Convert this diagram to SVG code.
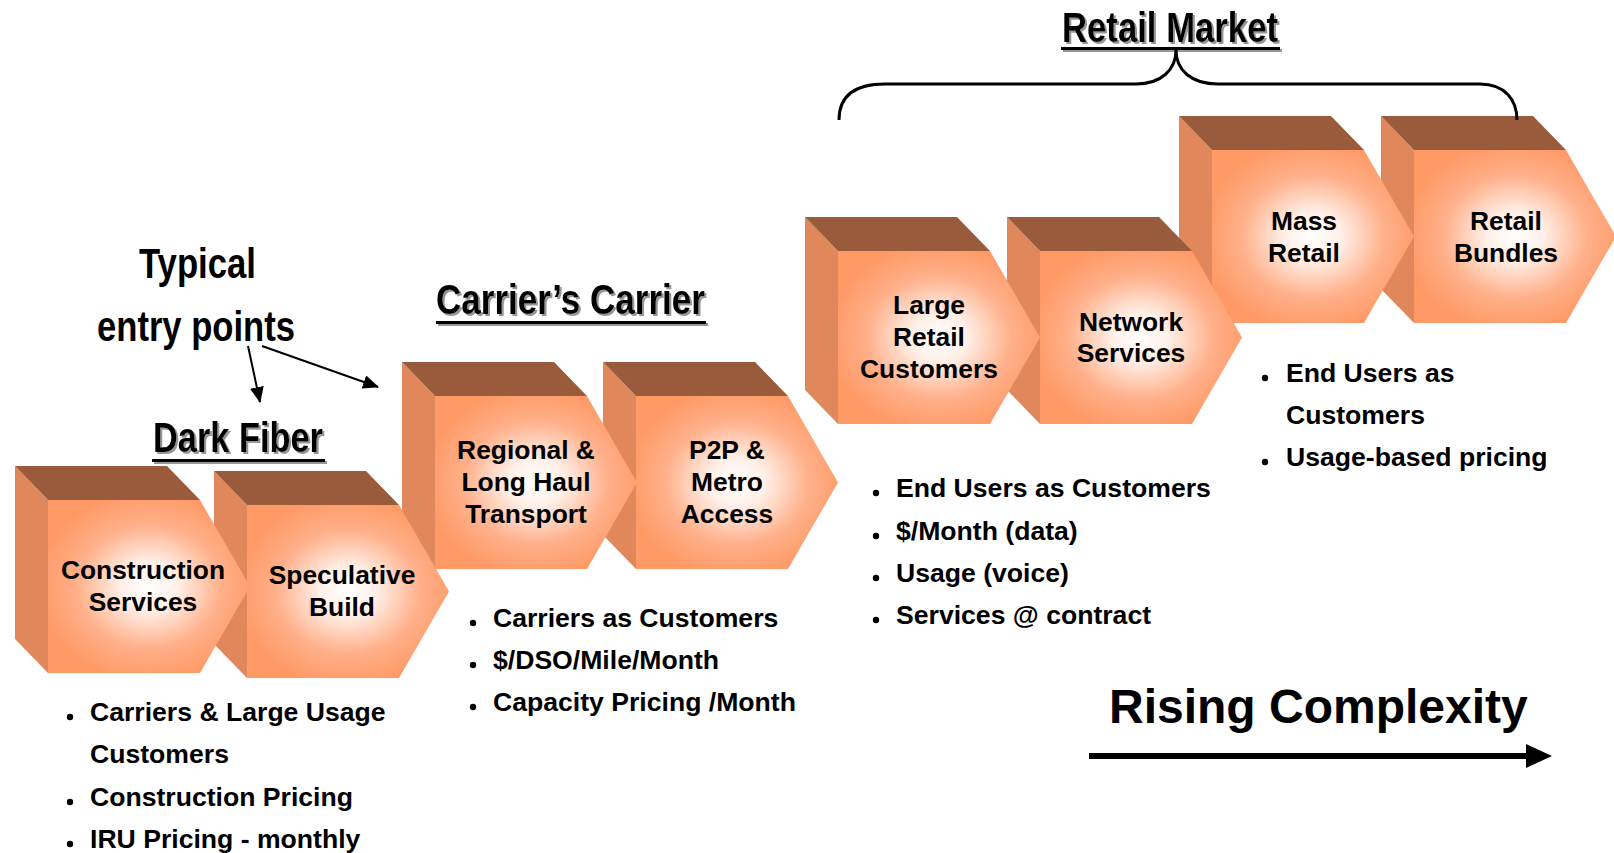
<svg xmlns="http://www.w3.org/2000/svg" xmlns:xlink="http://www.w3.org/1999/xlink" width="1614" height="853" viewBox="0 0 1614 853">
<style>
.side{fill:#E0885C}
.top{fill:#995B3C}
.front{fill:url(#fg)}
.lbl{font-family:"Liberation Sans",Arial,sans-serif;font-weight:bold;font-size:26.4px;text-anchor:middle;fill:#000}
.bul{font-family:"Liberation Sans",Arial,sans-serif;font-weight:bold;font-size:26.6px;fill:#000}
.head{font-family:"Liberation Sans Narrow","Liberation Sans",Arial,sans-serif;font-weight:bold;font-size:42px;fill:#000}
.big{font-family:"Liberation Sans",Arial,sans-serif;font-weight:bold;font-size:48px;fill:#000}
.conn{fill:none;stroke:#000;stroke-width:2}
.dot{fill:#000}
</style>
<defs>
<radialGradient id="fg" cx="0.5" cy="0.5" r="0.55">
<stop offset="0" stop-color="#FFFFFF"/>
<stop offset="0.25" stop-color="#FFF0E8"/>
<stop offset="0.65" stop-color="#FFB08A"/>
<stop offset="1" stop-color="#FF9966"/>
</radialGradient>
<filter id="sh" x="-10%" y="-20%" width="120%" height="150%">
<feDropShadow dx="2" dy="2" stdDeviation="0.6" flood-color="#8C8C8C" flood-opacity="0.9"/>
</filter>
<marker id="ah" markerUnits="userSpaceOnUse" markerWidth="16" markerHeight="14" refX="15" refY="7" orient="auto">
<path d="M0,0 L16,7 L0,14 z" fill="#000"/>
</marker>
<g id="box">
<polygon class="side" points="0,0 33,34 33,207 0,173"/>
<polygon class="top" points="0,0 152,0 185,34 33,34"/>
<polygon class="front" points="33,34 185,34 235,120.5 185,207 33,207"/>
</g>
</defs>
<rect width="1614" height="853" fill="#FFFFFF"/>

<g id="node-retail-bundles">
<use xlink:href="#box" href="#box" transform="translate(1381,116)"/>
<text class="lbl" x="1506" y="230">Retail</text>
<text class="lbl" x="1506" y="262">Bundles</text>
</g>
<g id="node-mass-retail">
<use xlink:href="#box" href="#box" transform="translate(1179,116)"/>
<text class="lbl" x="1304" y="230">Mass</text>
<text class="lbl" x="1304" y="262">Retail</text>
</g>
<g id="node-network-services">
<use xlink:href="#box" href="#box" transform="translate(1007,217)"/>
<text class="lbl" x="1131" y="331">Network</text>
<text class="lbl" x="1131" y="362">Services</text>
</g>
<g id="node-large-retail">
<use xlink:href="#box" href="#box" transform="translate(805,217)"/>
<text class="lbl" x="929" y="314">Large</text>
<text class="lbl" x="929" y="346">Retail</text>
<text class="lbl" x="929" y="378">Customers</text>
</g>
<g id="node-p2p-metro">
<use xlink:href="#box" href="#box" transform="translate(603,362)"/>
<text class="lbl" x="727" y="459">P2P &amp;</text>
<text class="lbl" x="727" y="491">Metro</text>
<text class="lbl" x="727" y="523">Access</text>
</g>
<g id="node-regional">
<use xlink:href="#box" href="#box" transform="translate(402,362)"/>
<text class="lbl" x="526" y="459">Regional &amp;</text>
<text class="lbl" x="526" y="491">Long Haul</text>
<text class="lbl" x="526" y="523">Transport</text>
</g>
<g id="node-speculative">
<use xlink:href="#box" href="#box" transform="translate(214,471)"/>
<text class="lbl" x="342" y="584">Speculative</text>
<text class="lbl" x="342" y="616">Build</text>
</g>
<g id="node-construction">
<use xlink:href="#box" href="#box" transform="translate(15,466)"/>
<text class="lbl" x="143" y="579">Construction</text>
<text class="lbl" x="143" y="611">Services</text>
</g>

<g id="headings">
<text class="head" x="139" y="278" textLength="117" lengthAdjust="spacingAndGlyphs">Typical</text>
<text class="head" x="97" y="341" textLength="198" lengthAdjust="spacingAndGlyphs">entry points</text>
<g filter="url(#sh)">
<text class="head" x="153" y="452" textLength="170" lengthAdjust="spacingAndGlyphs">Dark Fiber</text>
<rect x="152" y="459" width="173" height="3" fill="#000"/>
</g>
<g filter="url(#sh)">
<text class="head" x="436" y="314" textLength="269" lengthAdjust="spacingAndGlyphs">Carrier’s Carrier</text>
<rect x="436" y="321" width="270" height="3" fill="#000"/>
</g>
<g filter="url(#sh)">
<text class="head" x="1062" y="42" textLength="216" lengthAdjust="spacingAndGlyphs">Retail Market</text>
<rect x="1061" y="47" width="219" height="3" fill="#000"/>
</g>
</g>

<g id="connectors">
<line class="conn" x1="248" y1="346" x2="260" y2="402" marker-end="url(#ah)"/>
<line class="conn" x1="262" y1="346" x2="378" y2="387" marker-end="url(#ah)"/>
</g>

<g id="brace">
<path d="M839,120 C839,96 855,84 885,84 L1136,84 C1161,84 1176,70 1176,50 C1176,70 1191,84 1218,84 L1480,84 C1505,84 1517,100 1517,120" fill="none" stroke="#000" stroke-width="3"/>
</g>

<g id="bullets-dark-fiber">
<circle class="dot" cx="70" cy="717" r="3.2"/>
<text class="bul" x="90" y="721">Carriers &amp; Large Usage</text>
<text class="bul" x="90" y="763">Customers</text>
<circle class="dot" cx="70" cy="802" r="3.2"/>
<text class="bul" x="90" y="806">Construction Pricing</text>
<circle class="dot" cx="70" cy="844" r="3.2"/>
<text class="bul" x="90" y="848">IRU Pricing - monthly</text>
</g>
<g id="bullets-carriers">
<circle class="dot" cx="473" cy="623" r="3.2"/>
<text class="bul" x="493" y="627">Carriers as Customers</text>
<circle class="dot" cx="473" cy="665" r="3.2"/>
<text class="bul" x="493" y="669">$/DSO/Mile/Month</text>
<circle class="dot" cx="473" cy="707" r="3.2"/>
<text class="bul" x="493" y="711">Capacity Pricing /Month</text>
</g>
<g id="bullets-large-retail">
<circle class="dot" cx="876" cy="493" r="3.2"/>
<text class="bul" x="896" y="497">End Users as Customers</text>
<circle class="dot" cx="876" cy="536" r="3.2"/>
<text class="bul" x="896" y="540">$/Month (data)</text>
<circle class="dot" cx="876" cy="578" r="3.2"/>
<text class="bul" x="896" y="582">Usage (voice)</text>
<circle class="dot" cx="876" cy="620" r="3.2"/>
<text class="bul" x="896" y="624">Services @ contract</text>
</g>
<g id="bullets-mass-retail">
<circle class="dot" cx="1265" cy="378" r="3.2"/>
<text class="bul" x="1286" y="382">End Users as</text>
<text class="bul" x="1286" y="424">Customers</text>
<circle class="dot" cx="1265" cy="462" r="3.2"/>
<text class="bul" x="1286" y="466">Usage-based pricing</text>
</g>

<g id="rising-complexity">
<text class="big" x="1109" y="723">Rising Complexity</text>
<line x1="1089" y1="756" x2="1530" y2="756" stroke="#000" stroke-width="6"/>
<polygon points="1526,744 1552,756 1526,768" fill="#000"/>
</g>
</svg>
